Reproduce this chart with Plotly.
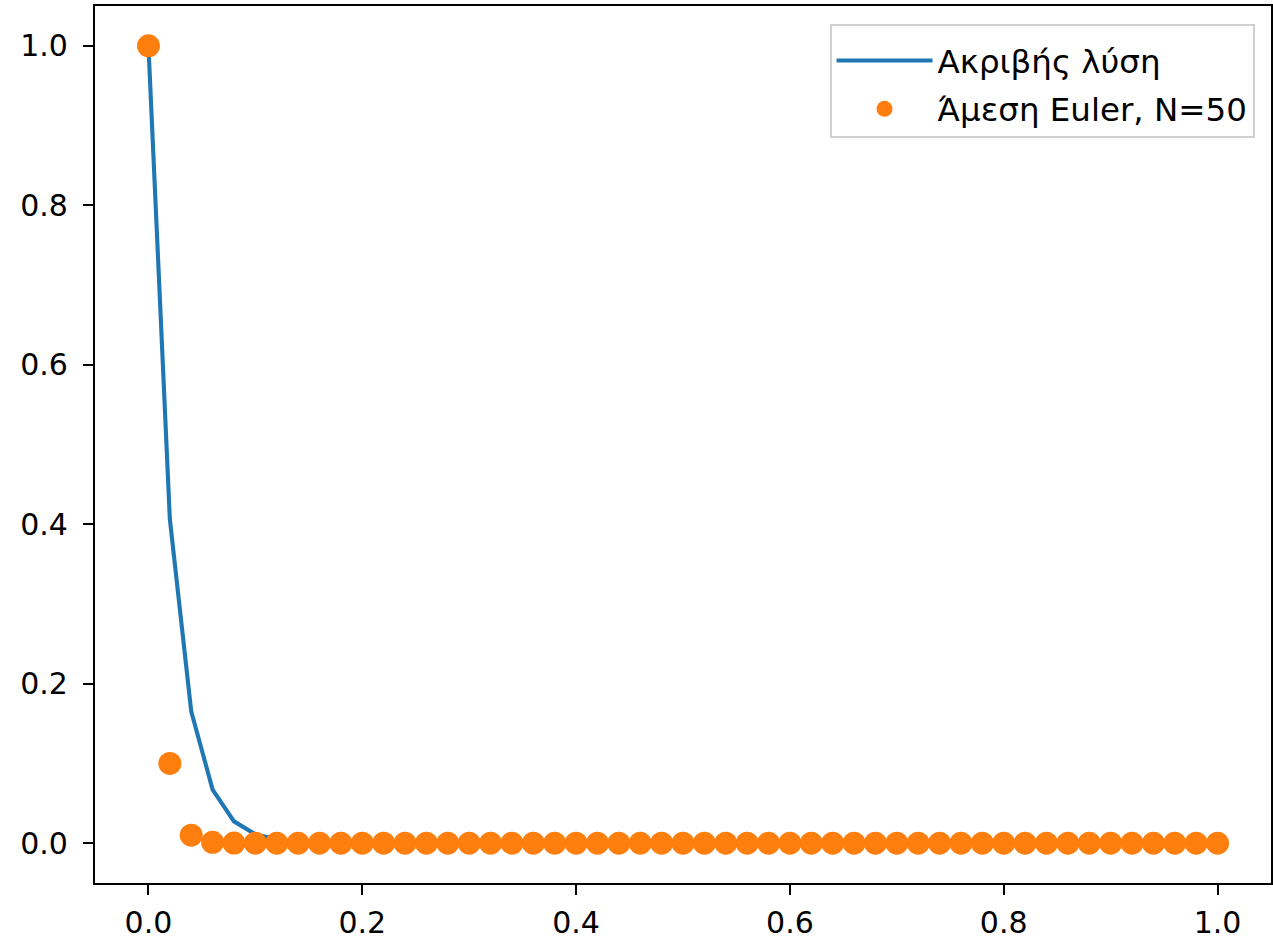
import plotly.graph_objects as go

# Data
t_values = [0.0, 0.02, 0.04, 0.06, 0.08, 0.1, 0.12, 0.14, 0.16, 0.18,
            0.2, 0.22, 0.24, 0.26, 0.28, 0.3, 0.32, 0.34, 0.36, 0.38,
            0.4, 0.42, 0.44, 0.46, 0.48, 0.5, 0.52, 0.54, 0.56, 0.58,
            0.6, 0.62, 0.64, 0.66, 0.68, 0.7, 0.72, 0.74, 0.76, 0.78,
            0.8, 0.82, 0.84, 0.86, 0.88, 0.9, 0.92, 0.94, 0.96, 0.98, 1.0]

exact_values = [1.0, 0.4066, 0.1653, 0.0672, 0.0273, 0.0111, 0.0045, 0.0018, 0.0007, 0.0003,
                0.0001, 0.0, 0.0, 0.0, 0.0, 0.0, 0.0, 0.0, 0.0, 0.0,
                0.0, 0.0, 0.0, 0.0, 0.0, 0.0, 0.0, 0.0, 0.0, 0.0,
                0.0, 0.0, 0.0, 0.0, 0.0, 0.0, 0.0, 0.0, 0.0, 0.0,
                0.0, 0.0, 0.0, 0.0, 0.0, 0.0, 0.0, 0.0, 0.0, 0.0, 0.0]

euler_values = [1.0, 0.1, 0.01, 0.001, 0.0001, 0.0, 0.0, 0.0, 0.0, 0.0,
                0.0, 0.0, 0.0, 0.0, 0.0, 0.0, 0.0, 0.0, 0.0, 0.0,
                0.0, 0.0, 0.0, 0.0, 0.0, 0.0, 0.0, 0.0, 0.0, 0.0,
                0.0, 0.0, 0.0, 0.0, 0.0, 0.0, 0.0, 0.0, 0.0, 0.0,
                0.0, 0.0, 0.0, 0.0, 0.0, 0.0, 0.0, 0.0, 0.0, 0.0, 0.0]

series_names = ["Ακριβής λύση", "Άμεση Euler, N=50"]
tick_vals = [0.0, 0.2, 0.4, 0.6, 0.8, 1.0]

FONT = "DejaVu Sans"
FS = 30
LFS = 32.5

fig = go.Figure()
fig.add_trace(go.Scatter(
    x=t_values, y=exact_values, mode="lines", name=series_names[0],
    line=dict(color="#1f77b4", width=4.1), legendgroup="a",
))
fig.add_trace(go.Scatter(
    x=t_values, y=euler_values, mode="markers", name=series_names[1],
    marker=dict(color="#ff7f0e", size=23, line=dict(width=0)), legendgroup="b",
))

axis_common = dict(
    showline=True, linecolor="black", linewidth=2.2, mirror=True,
    ticks="outside", ticklen=10, tickwidth=2.2, tickcolor="black",
    showgrid=False, zeroline=False, automargin=False,
    tickfont=dict(family=FONT, size=FS, color="black"),
    tickvals=tick_vals, tickformat=".1f",
)

fig.update_xaxes(range=[-0.05, 1.05], ticklabelstandoff=2, **axis_common)
fig.update_yaxes(range=[-0.05, 1.05], ticklabelstandoff=9, **axis_common)

fig.update_layout(
    width=1273, height=945,
    margin=dict(l=95, r=2, t=6, b=62),
    paper_bgcolor="white", plot_bgcolor="white",
    font=dict(family=FONT, size=FS, color="black"),
    legend=dict(
        x=0.986, y=0.979, xanchor="right", yanchor="top",
        bgcolor="rgba(255,255,255,0.8)", bordercolor="#d0d0d0", borderwidth=2,
        font=dict(family=FONT, size=LFS, color="black"),
        itemwidth=96,
        tracegroupgap=3,
        title=dict(text=" ", font=dict(size=5)),
    ),
    showlegend=True,
)

fig.write_html("out.html")
